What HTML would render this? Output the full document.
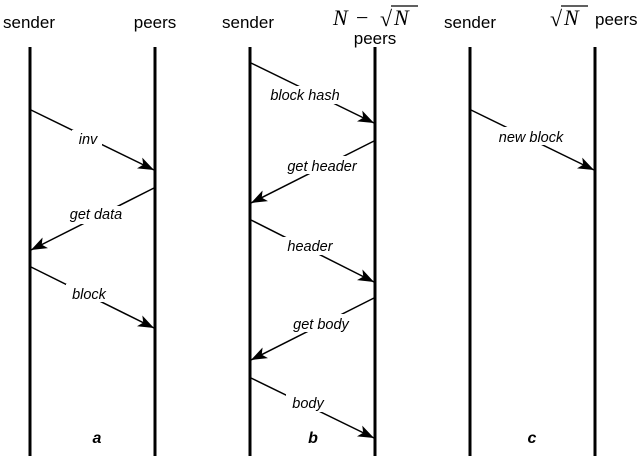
<!DOCTYPE html>
<html><head><style>
html,body{margin:0;padding:0;background:#fff;}
svg{display:block;}
.h{font-family:"Liberation Sans",sans-serif;font-size:17px;fill:#000;}
.m{font-family:"Liberation Serif",serif;font-size:22px;font-style:italic;fill:#000;}
.ms{font-family:"Liberation Serif",serif;font-size:22px;fill:#000;}
.l{font-family:"Liberation Sans",sans-serif;font-size:14.5px;font-style:italic;fill:#000;}
.p{font-family:"Liberation Sans",sans-serif;font-size:16px;font-style:italic;font-weight:bold;fill:#000;}
</style></head><body>
<svg width="640" height="456" viewBox="0 0 640 456" xmlns="http://www.w3.org/2000/svg">
<defs><marker id="a" markerWidth="10" markerHeight="8" refX="10" refY="4" orient="auto" markerUnits="userSpaceOnUse"><path d="M0,0 L10,4 L0,8 z" fill="#000" transform="scale(1.6) translate(-4,-1.5)"/></marker>
<marker id="ar" viewBox="0 0 16 12" markerWidth="16" markerHeight="12" refX="16" refY="6" orient="auto" markerUnits="userSpaceOnUse"><path d="M0,0 L16,6 L0,12 L4,6 z" fill="#000"/></marker></defs>
<g stroke="#000" stroke-width="3">
<line x1="30" y1="47" x2="30" y2="456"/><line x1="155" y1="47" x2="155" y2="456"/>
<line x1="250" y1="47" x2="250" y2="456"/><line x1="375" y1="47" x2="375" y2="456"/>
<line x1="470" y1="47" x2="470" y2="456"/><line x1="595" y1="47" x2="595" y2="456"/>
</g>
<g stroke="#000" stroke-width="1.5" marker-end="url(#ar)">
<line x1="31" y1="110" x2="154" y2="170"/>
<line x1="154" y1="188" x2="31" y2="250"/>
<line x1="31" y1="267" x2="154" y2="328"/>
<line x1="251" y1="63" x2="374" y2="123"/>
<line x1="374" y1="141" x2="251" y2="203"/>
<line x1="251" y1="220" x2="374" y2="282"/>
<line x1="374" y1="298" x2="251" y2="360"/>
<line x1="251" y1="378" x2="374" y2="438"/>
<line x1="471" y1="110" x2="594" y2="170"/>
</g>
<g class="l" text-anchor="middle">
<rect x="72" y="130" width="30" height="18" fill="#fff"/><text x="88" y="144">inv</text>
<rect x="66" y="206" width="60" height="18" fill="#fff"/><text x="96" y="219">get data</text>
<rect x="66" y="284" width="46" height="18" fill="#fff"/><text x="89" y="299">block</text>
<rect x="263" y="86" width="85" height="18" fill="#fff"/><text x="305" y="100">block hash</text>
<rect x="280" y="156" width="85" height="18" fill="#fff"/><text x="322" y="171">get header</text>
<rect x="280" y="237" width="60" height="18" fill="#fff"/><text x="310" y="251">header</text>
<rect x="285" y="314" width="72" height="18" fill="#fff"/><text x="321" y="329">get body</text>
<rect x="286" y="394" width="42" height="18" fill="#fff"/><text x="308" y="408">body</text>
<rect x="488" y="127" width="86" height="18" fill="#fff"/><text x="531" y="142">new block</text>
</g>
<g class="h" text-anchor="middle">
<text x="29" y="28">sender</text><text x="155" y="28">peers</text>
<text x="248" y="28">sender</text><text x="375" y="44">peers</text>
<text x="470" y="28">sender</text>
</g>
<text class="m" x="333" y="25">N</text>
<text class="ms" x="356" y="25">−</text>
<text class="ms" x="380" y="26">√</text>
<line x1="391" y1="6" x2="418" y2="6" stroke="#000" stroke-width="1.2"/>
<text class="m" x="394" y="25">N</text>
<text class="ms" x="550" y="26">√</text>
<line x1="561" y1="6" x2="588" y2="6" stroke="#000" stroke-width="1.2"/>
<text class="m" x="564" y="25">N</text>
<text class="h" x="595" y="25">peers</text>
<g class="p" text-anchor="middle">
<text x="97" y="443">a</text><text x="313" y="443">b</text><text x="532" y="443">c</text>
</g>
</svg>
</body></html>
